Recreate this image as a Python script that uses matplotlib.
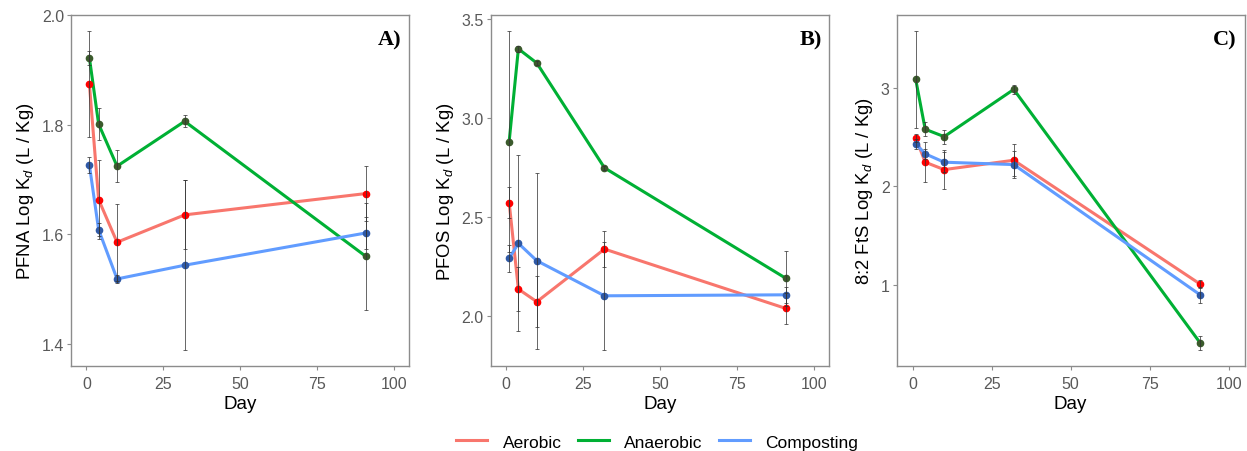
import matplotlib.pyplot as plt

plt.rcParams['font.family'] = ['Liberation Sans', 'DejaVu Sans']
plt.rcParams['mathtext.fontset'] = 'custom'
plt.rcParams['mathtext.rm'] = 'Liberation Sans'
plt.rcParams['mathtext.it'] = 'Liberation Sans:italic'

# Sampling days
dias = [1, 4, 10, 32, 91]
tratamientos = ['Aerobic', 'Anaerobic', 'Composting']

# PFNA (panel A): medias y desviaciones
pfna_aer = [1.874, 1.663, 1.585, 1.635, 1.674]
pfna_ana = [1.922, 1.801, 1.724, 1.806, 1.559]
pfna_com = [1.726, 1.608, 1.518, 1.543, 1.602]
pfna_aer_sd = [0.097, 0.072, 0.070, 0.063, 0.050]
pfna_ana_sd = [0.013, 0.030, 0.029, 0.011, 0.097]
pfna_com_sd = [0.014, 0.012, 0.008, 0.155, 0.030]

# PFOS (panel B)
pfos_aer = [2.572, 2.135, 2.071, 2.337, 2.037]
pfos_ana = [2.880, 3.348, 3.276, 2.747, 2.189]
pfos_com = [2.290, 2.366, 2.278, 2.101, 2.106]
pfos_aer_sd = [0.080, 0.110, 0.130, 0.093, 0.079]
pfos_ana_sd = [0.558, 0.015, 0.010, 0.010, 0.137]
pfos_com_sd = [0.070, 0.445, 0.445, 0.274, 0.040]

# 8:2 FtS (panel C)
fts_aer = [2.495, 2.246, 2.171, 2.266, 1.010]
fts_ana = [3.085, 2.580, 2.505, 2.983, 0.413]
fts_com = [2.433, 2.331, 2.246, 2.222, 0.901]
fts_aer_sd = [0.040, 0.200, 0.200, 0.160, 0.040]
fts_ana_sd = [0.490, 0.070, 0.070, 0.050, 0.070]
fts_com_sd = [0.050, 0.050, 0.100, 0.140, 0.080]

paneles = [
    ('PFNA', 'A)', [pfna_aer, pfna_ana, pfna_com], [pfna_aer_sd, pfna_ana_sd, pfna_com_sd], [1.4, 1.6, 1.8, 2.0], '{:.1f}'),
    ('PFOS', 'B)', [pfos_aer, pfos_ana, pfos_com], [pfos_aer_sd, pfos_ana_sd, pfos_com_sd], [2.0, 2.5, 3.0, 3.5], '{:.1f}'),
    ('8:2 FtS', 'C)', [fts_aer, fts_ana, fts_com], [fts_aer_sd, fts_ana_sd, fts_com_sd], [1, 2, 3], '{:.0f}'),
]

col_linea = ['#F8766D', '#00B034', '#619CFF']
col_punto = ['#FF0000', '#3B5A2C', '#2F59A6']

fig = plt.figure(figsize=(12.47, 4.52), dpi=100)
posiciones = [
    [0.0569, 0.188, 0.2711, 0.7765],
    [0.3935, 0.188, 0.2713, 0.7765],
    [0.7191, 0.188, 0.2790, 0.7765],
]

handles = []
for pos, (comp, letra, series, sds, yticks, fmt) in zip(posiciones, paneles):
    ax = fig.add_axes(pos)
    for k in range(3):
        ln, = ax.plot(dias, series[k], color=col_linea[k], lw=2.2, zorder=2,
                      label=tratamientos[k])
        ax.plot(dias, series[k], 'o', color=col_punto[k], ms=4.5, zorder=3)
        ax.errorbar(dias, series[k], yerr=sds[k], fmt='none', ecolor='#333333',
                    elinewidth=0.7, capsize=1.5, capthick=0.7, alpha=0.75, zorder=4)
        if letra == 'A)':
            handles.append(ln)

    # ggplot-style 5% expansion around the data and error bars
    lo = min(min(v - s for v, s in zip(serie, sd)) for serie, sd in zip(series, sds))
    hi = max(max(v + s for v, s in zip(serie, sd)) for serie, sd in zip(series, sds))
    pad = 0.05 * (hi - lo)
    ax.set_ylim(lo - pad, hi + pad)
    ax.set_xlim(-5, 105)
    ax.set_xticks([0, 25, 50, 75, 100])
    ax.set_yticks(yticks)
    ax.set_yticklabels([fmt.format(t) for t in yticks])

    for sp in ax.spines.values():
        sp.set_color('#8c8c8c')
        sp.set_linewidth(1.0)
    ax.tick_params(colors='#8c8c8c', labelcolor='#595959', labelsize=11.5,
                   length=3, width=0.8)
    ax.tick_params(axis='x', pad=4)
    ax.tick_params(axis='y', pad=2)
    ax.set_xlabel('Day', fontsize=13.5, labelpad=3)
    ax.set_ylabel(comp + ' Log K$_d$ (L / Kg)', fontsize=13.3, labelpad=4)
    ax.text(0.978, 0.93, letra, transform=ax.transAxes, ha='right', va='center',
            fontsize=16, fontweight='bold', family='Liberation Serif')

fig.legend(handles, tratamientos, loc='center', bbox_to_anchor=(0.527, 0.02),
           ncol=3, frameon=False, fontsize=12.5, handlelength=1.8,
           handletextpad=0.9, columnspacing=0.9)

fig.savefig('out.png', dpi=100)
